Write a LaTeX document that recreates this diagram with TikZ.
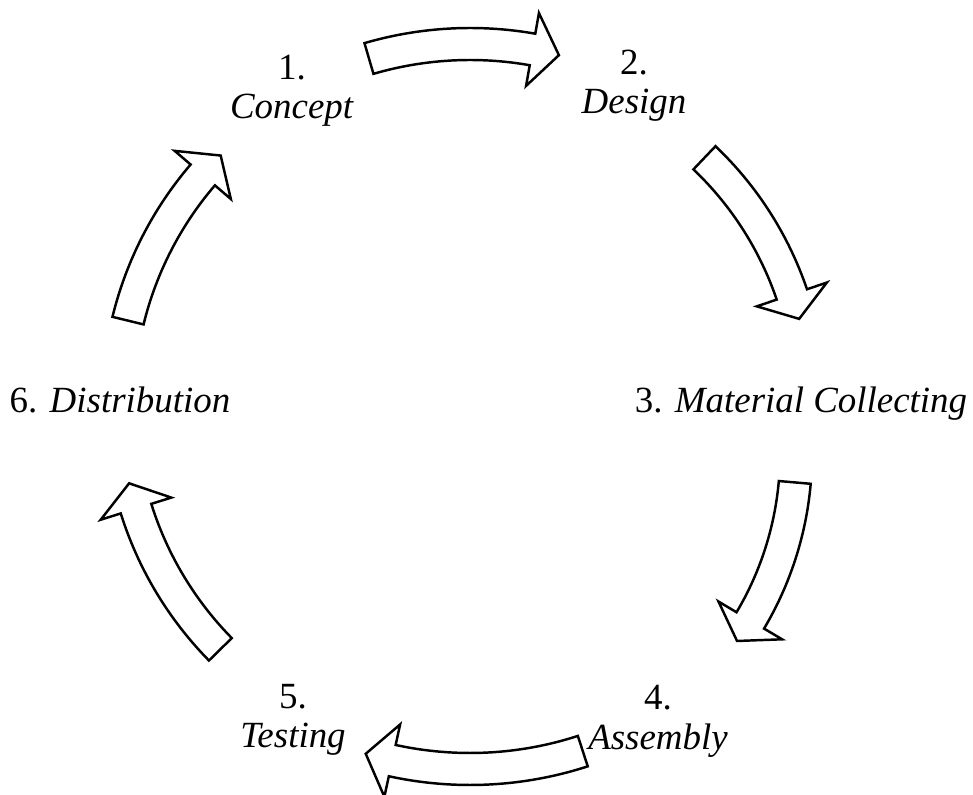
\documentclass[tikz,border=0pt]{standalone}
\usepackage{fontspec}
\setmainfont{Liberation Serif}

% curved block arrow round the origin, running clockwise:
% [options]{tail angle}{head angle}{radius}
\newcommand{\cyclearrow}[4][]{%
	\draw[stagearrow, #1] (#2:#4+16) arc[start angle=#2, end angle=#3, radius=#4+16]
		-- (#3:#4+37) -- (#3-4.3:#4) -- (#3:#4-37) -- (#3:#4-16)
		arc[start angle=#3, end angle=#2, radius=#4-16] -- cycle;
}

\begin{document}
\begin{tikzpicture}[x=0.01cm, y=0.01cm,
	stage/.style={inner sep=0pt, align=center, font=\fontsize{10.5}{11.2}\selectfont},
	stagearrow/.style={draw=black, fill=white, line width=0.7pt, line join=miter}]

	\useasboundingbox (-470,-390) rectangle (503,404);

	% Stages
	\node[stage] (concept) at (-178,313.5) {1.\\\textit{Concept}};
	\node[stage] (design) at (164,318.5) {2.\\\textit{Design}};
	\node[stage, anchor=base] (material) at (331,-9) {3. \textit{Material Collecting}};
	\node[stage] (assembly) at (188,-317.5) {4.\\\textit{Assembly}};
	\node[stage] (testing) at (-177,-316) {5.\\\textit{Testing}};
	\node[stage, anchor=base] (distribution) at (-350,-9) {6. \textit{Distribution}};

	% Cycle arrows
	\cyclearrow{106.3}{80}{360}
	\cyclearrow{46.4}{18.8}{340}
	\cyclearrow[shift={(0,-50)}]{-5}{-30.7}{326}
	\cyclearrow{-72}{-102.3}{365}
	\cyclearrow{224.5}{197.4}{350}
	\cyclearrow{166.3}{139.4}{352}

\end{tikzpicture}
\end{document}
